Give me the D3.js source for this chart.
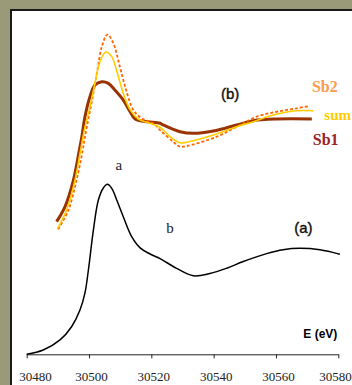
<!DOCTYPE html>
<html>
<head>
<meta charset="utf-8">
<script src="https://cdn.jsdelivr.net/npm/d3@7"></script>
<style>
  html, body { margin: 0; padding: 0; background: #9a9a78; }
  svg { display: block; }
</style>
</head>
<body>
<svg id="chart" width="352" height="385"></svg>
<script>
// energies (eV) and normalized absorption
const spectrumA = [
  [30480, 0], [30485.3, 0.026], [30490.7, 0.087], [30494.4, 0.167], [30497.1, 0.268],
  [30498.7, 0.372], [30499.8, 0.511], [30501.4, 0.753], [30503.0, 0.935], [30504.6, 1.008],
  [30505.9, 1.030], [30507.3, 1.006], [30508.9, 0.935], [30511.0, 0.834], [30513.7, 0.713],
  [30516.4, 0.645], [30519.6, 0.608], [30522.8, 0.580], [30528.1, 0.521], [30533.5, 0.476],
  [30538.8, 0.490], [30544.2, 0.522], [30549.5, 0.562], [30557.0, 0.610], [30562.3, 0.634],
  [30567.7, 0.642], [30574.1, 0.633], [30580.5, 0.606]
]

const sb1 = [
  [30489.6, 0.804], [30492.3, 0.895], [30495.0, 1.056], [30496.9, 1.238], [30497.7, 1.319],
  [30498.7, 1.44], [30500.3, 1.561], [30501.9, 1.632], [30504.1, 1.652], [30506.2, 1.642],
  [30508.3, 1.602], [30511.0, 1.541], [30513.2, 1.47], [30514.8, 1.426], [30518.5, 1.41],
  [30522.8, 1.40], [30523.8, 1.39], [30529.2, 1.349], [30533.5, 1.339], [30539.9, 1.353],
  [30547.4, 1.39], [30552.7, 1.416], [30560.2, 1.426], [30571.5, 1.426]
]

const sumFit = [
  [30489.8, 0.759], [30492.8, 0.875], [30495.5, 1.056], [30497.1, 1.218], [30498.5, 1.359],
  [30500.3, 1.501], [30501.9, 1.642], [30503.5, 1.773], [30505.4, 1.832], [30507.3, 1.804],
  [30509.1, 1.703], [30511.0, 1.582], [30513.2, 1.481], [30515.8, 1.426], [30519.6, 1.40],
  [30522.8, 1.376], [30526.0, 1.319], [30529.2, 1.282], [30531.3, 1.285], [30539.9, 1.329],
  [30547.4, 1.379], [30552.7, 1.41], [30559.1, 1.45], [30566.6, 1.476], [30572.0, 1.476]
]

const sb2 = [
  [30490.1, 0.758], [30493.4, 0.875], [30496.0, 1.056], [30498.0, 1.238], [30498.7, 1.319],
  [30501.2, 1.561], [30502.7, 1.723], [30504.1, 1.864], [30505.9, 1.938], [30507.8, 1.885],
  [30509.9, 1.743], [30511.9, 1.602], [30514.2, 1.481], [30516.9, 1.43], [30520.6, 1.40],
  [30522.8, 1.359], [30527.0, 1.288], [30529.2, 1.258], [30531.3, 1.262], [30541.0, 1.319],
  [30548.5, 1.39], [30553.8, 1.44], [30560.2, 1.47], [30566.6, 1.491], [30570.9, 1.505]
]

const xTicks = [30480, 30500, 30520, 30540, 30560, 30580]

// annotation anchors, in data units
const peakLabels = [['a', 30509.6, 1.114], ['b', 30526.0, 0.735]]
const panelLabels = [['(a)', 30568.8, 0.735], ['(b)', 30545.3, 1.547]]

class XanesChart {

  width = 352
  height = 385

  constructor() {
    this.svg = d3.select('#chart')

    this.x = d3.scaleLinear()
      .domain([30480, 30580])
      .range([26.7, 338.3])

    this.y = d3.scaleLinear()
      .domain([0, 2])
      .range([354.3, 24.3])

    this.line = d3.line()
      .x(d => this.x(d[0]))
      .y(d => this.y(d[1]))
      .curve(d3.curveCatmullRom.alpha(0.5))

    this.DrawFrame()
    this.DrawAxis()
    this.DrawCurves()
    this.DrawLabels()
  }

  DrawFrame = () => {
    this.svg.append('rect')
      .attr('width', this.width).attr('height', this.height)
      .attr('fill', '#9a9a78')
    this.svg.append('rect')
      .attr('x', 10).attr('y', 9)
      .attr('width', this.width).attr('height', this.height)
      .attr('fill', '#1a1a1a')
    this.svg.append('rect')
      .attr('x', 12).attr('y', 11)
      .attr('width', this.width).attr('height', this.height)
      .attr('fill', '#ffffff')
  }

  DrawAxis = () => {
    const axis = d3.axisBottom(this.x)
      .tickValues(xTicks)
      .tickFormat(d3.format('d'))
      .tickSize(4)
      .tickSizeOuter(0)

    const g = this.svg.append('g')
      .attr('transform', `translate(0, ${this.y(0)})`)
      .call(axis)
      .attr('font-family', '"Liberation Serif", "Times New Roman", serif')
      .attr('font-size', 13)

    g.select('.domain').attr('stroke', '#222')
    g.selectAll('.tick line').attr('stroke', '#222')
    g.selectAll('.tick text')
      .attr('fill', '#222')
      .attr('y', 26.5)
      .attr('dy', 0)
      // keep the labels inside the white area, as the original does
      .attr('x', d => {
        const cx = this.x(d) + 2
        return Math.max(35, Math.min(335, cx)) - this.x(d)
      })

    this.svg.append('text')
      .attr('x', this.x(30579.7))
      .attr('y', this.y(0.099))
      .attr('text-anchor', 'end')
      .attr('font-family', '"Liberation Sans", Arial, sans-serif')
      .attr('font-weight', 'bold')
      .attr('font-size', 12)
      .text('E (eV)')
  }

  DrawCurves = () => {
    this.svg.append('path')
      .datum(spectrumA)
      .attr('d', this.line)
      .attr('fill', 'none')
      .attr('stroke', '#000')
      .attr('stroke-width', 1.5)

    this.svg.append('path')
      .datum(sb1)
      .attr('d', this.line)
      .attr('fill', 'none')
      .attr('stroke', '#993300')
      .attr('stroke-width', 3)

    this.svg.append('path')
      .datum(sb2)
      .attr('d', this.line)
      .attr('fill', 'none')
      .attr('stroke', '#ff6600')
      .attr('stroke-width', 1.8)
      .attr('stroke-dasharray', '3,2')

    this.svg.append('path')
      .datum(sumFit)
      .attr('d', this.line)
      .attr('fill', 'none')
      .attr('stroke', '#ffcc00')
      .attr('stroke-width', 1.6)
  }

  DrawLabels = () => {
    this.svg.selectAll('text.peak')
      .data(peakLabels)
      .join('text')
      .classed('peak', true)
      .attr('x', d => this.x(d[1]))
      .attr('y', d => this.y(d[2]))
      .attr('text-anchor', 'middle')
      .attr('font-family', '"Liberation Serif", "Times New Roman", serif')
      .attr('font-size', 15)
      .attr('fill', '#222')
      .text(d => d[0])

    this.svg.selectAll('text.panel')
      .data(panelLabels)
      .join('text')
      .classed('panel', true)
      .attr('x', d => this.x(d[1]))
      .attr('y', d => this.y(d[2]))
      .attr('text-anchor', 'middle')
      .attr('font-family', '"Liberation Sans", Arial, sans-serif')
      .attr('font-size', 15)
      .attr('fill', '#111')
      .attr('stroke', '#111')
      .attr('stroke-width', 0.4)
      .text(d => d[0])

    // series names sit just right of where each curve ends
    const legend = [
      ['Sb2', sb2, '#ff9a4d', 2, -14, 16],
      ['sum', sumFit, '#ffcc00', 11, 9, 15],
      ['Sb1', sb1, '#9b2222', 1, 26, 16]
    ]
    this.svg.selectAll('text.series')
      .data(legend)
      .join('text')
      .classed('series', true)
      .attr('x', d => this.x(d[1][d[1].length - 1][0]) + d[3])
      .attr('y', d => this.y(d[1][d[1].length - 1][1]) + d[4])
      .attr('font-family', '"Liberation Serif", "Times New Roman", serif')
      .attr('font-weight', 'bold')
      .attr('font-size', d => d[5])
      .attr('fill', d => d[2])
      .text(d => d[0])
  }
}

new XanesChart()
</script>
</body>
</html>
